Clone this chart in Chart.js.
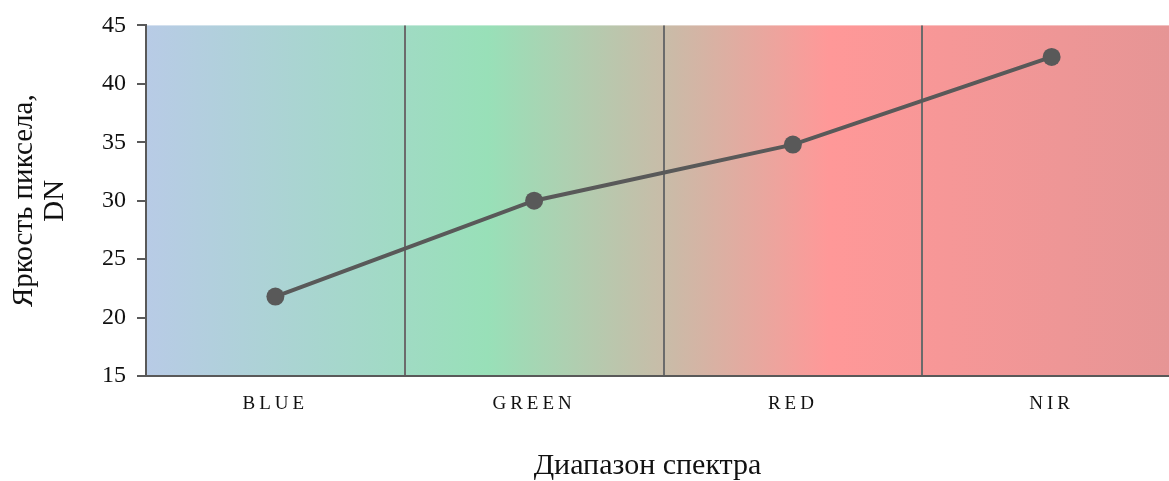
<!DOCTYPE html>
<html>
<head>
<meta charset="utf-8">
<script src="https://cdn.jsdelivr.net/npm/chart.js@4/dist/chart.umd.min.js"></script>
<style>
  html, body { margin:0; padding:0; background:#fff; overflow:hidden; }
  #wrap { width:1190px; height:481px; }
</style>
</head>
<body>
<div id="wrap"><canvas id="chart" width="1190" height="481"></canvas></div>
<script>
// data
const bands = ['BLUE', 'GREEN', 'RED', 'NIR'];
const brightness = [21.8, 30.0, 34.8, 42.3];
const yMin = 15, yMax = 45, yStep = 5;

// background gradient across the plot (blue -> green -> tan -> red -> dusty red)
const bgStops = [
  [0.00, '#b8cbe6'],
  [0.33, '#98e0b8'],
  [0.50, '#c8bca8'],
  [0.66, '#ff9898'],
  [1.00, '#e59595']
];

const serif = '"Liberation Serif", "Times New Roman", serif';

const bgPlugin = {
  id: 'bandBg',
  beforeDraw(chart) {
    const a = chart.chartArea, ctx = chart.ctx;
    const g = ctx.createLinearGradient(a.left, 0, a.right, 0);
    bgStops.forEach(s => g.addColorStop(s[0], s[1]));
    ctx.save();
    ctx.fillStyle = g;
    ctx.fillRect(a.left, a.top, a.right - a.left, a.bottom - a.top);
    ctx.restore();
  }
};

// spaced-out capitals under the x axis; x title centred on the visible part
const xAxisPlugin = {
  id: 'xAxisTweaks',
  afterUpdate(chart) {
    const sx = chart.scales.x;
    if (sx._patched) return;
    const origLabels = sx.drawLabels;
    sx.drawLabels = function(area) {
      this.ctx.save();
      this.ctx.letterSpacing = '4px';
      origLabels.call(this, area);
      this.ctx.restore();
    };
    const origTitle = sx.drawTitle;
    sx.drawTitle = function() {
      this.ctx.save();
      this.ctx.translate(-16, 0);
      origTitle.call(this);
      this.ctx.restore();
    };
    sx._patched = true;
  }
};

new Chart(document.getElementById('chart').getContext('2d'), {
  type: 'line',
  data: {
    labels: bands,
    datasets: [{
      data: brightness,
      borderColor: '#595959',
      backgroundColor: '#595959',
      borderWidth: 4,
      pointRadius: 9,
      pointBackgroundColor: '#595959',
      pointBorderColor: '#595959',
      pointBorderWidth: 0,
      tension: 0
    }]
  },
  options: {
    responsive: false,
    animation: false,
    layout: { padding: { left: 0, right: 8, top: 25, bottom: 0 } },
    plugins: { legend: { display: false }, tooltip: { enabled: false } },
    scales: {
      x: {
        offset: true,
        grid: { offset: true, drawOnChartArea: true, drawTicks: false, color: '#6b6b6b', lineWidth: 2 },
        border: { color: '#595959', width: 2 },
        ticks: { color: '#111', font: { family: serif, size: 19 }, padding: 17 },
        title: { display: true, text: 'Диапазон спектра', color: '#111', font: { family: serif, size: 30, lineHeight: 1.0 }, padding: { top: 30, bottom: 0 } },
        afterFit(s) { s.height = 105; }
      },
      y: {
        min: yMin, max: yMax,
        grid: { drawOnChartArea: false, drawTicks: true, tickLength: 9, color: '#595959', lineWidth: 2 },
        border: { color: '#595959', width: 2 },
        ticks: { stepSize: yStep, color: '#111', font: { family: serif, size: 24 }, padding: 11 },
        title: { display: true, text: ['Яркость пиксела,', 'DN'], color: '#111', font: { family: serif, size: 29, lineHeight: 1.1 }, padding: { top: 8, bottom: 0 } },
        afterFit(s) { s.width = 146; }
      }
    }
  },
  plugins: [bgPlugin, xAxisPlugin]
});
</script>
</body>
</html>
